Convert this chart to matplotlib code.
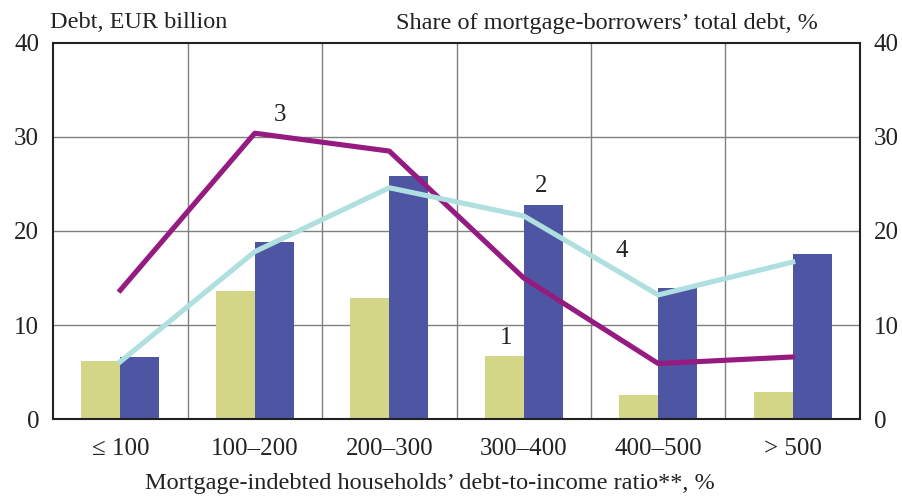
import matplotlib
matplotlib.use("Agg")
import matplotlib.pyplot as plt
import numpy as np

plt.rcParams['font.family'] = ['Liberation Serif', 'DejaVu Serif']

categories = ["≤ 100", "100–200", "200–300", "300–400", "400–500", "> 500"]
series1 = [6.2, 13.6, 12.9, 6.7, 2.6, 2.9]      # bars, yellow-green
series2 = [6.6, 18.8, 25.9, 22.8, 13.9, 17.6]   # bars, blue
series3 = [13.7, 30.4, 28.5, 15.0, 5.9, 6.6]    # line, purple
series4 = [6.1, 17.8, 24.6, 21.6, 13.2, 16.7]   # line, light cyan

c1 = "#d4d687"
c2 = "#4e55a3"
c3 = "#951b81"
c4 = "#b0dfe0"

fig = plt.figure(figsize=(9.02, 4.98), dpi=100)
ax = fig.add_axes([0.0588, 0.1586, 0.8946, 0.7551])
x = np.arange(len(categories))
w = 0.29
ax.bar(x - w/2, series1, width=w, color=c1, zorder=2)
ax.bar(x + w/2, series2, width=w, color=c2, zorder=2)
ax.plot(x, series3, color=c3, lw=3.7, zorder=3)
ax.plot(x, series4, color=c4, lw=3.7, zorder=3)

ax.set_xlim(-0.5, 5.5)
ax.set_ylim(0, 40)
ax.set_yticks([0, 10, 20, 30, 40])
ax.set_xticks(x)
ax.set_xticklabels(categories)
for b in np.arange(0.5, 5.0, 1.0):
    ax.axvline(b, color="#808080", lw=1, zorder=1)
for yv in [10, 20, 30]:
    ax.axhline(yv, color="#808080", lw=1, zorder=1)
for s in ax.spines.values():
    s.set_linewidth(1.5)
    s.set_color("#222222")
ax.tick_params(axis='both', length=0, labelsize=18, colors="#222222")
ax.tick_params(axis='y', pad=10, labelright=True, right=False)
ax.tick_params(axis='x', pad=14)

fs = 18
ax.text(1.19, series3[1] + 0.8, "3", fontsize=fs, ha='center', va='bottom', color="#222222")
ax.text(3.13, series2[3] + 0.8, "2", fontsize=fs, ha='center', va='bottom', color="#222222")
ax.text(2.87, series1[3] + 0.7, "1", fontsize=fs, ha='center', va='bottom', color="#222222")
ax.text(3.73, 16.7, "4", fontsize=fs, ha='center', va='bottom', color="#222222")

fig.text(50/902, 1 - 23/498, "Debt, EUR billion", fontsize=17.5, ha='left', va='center', color="#222222")
fig.text(818/902, 1 - 23/498, "Share of mortgage-borrowers’ total debt, %", fontsize=17.5, ha='right', va='center', color="#222222")
fig.text(430/902, 1 - 483/498, "Mortgage-indebted households’ debt-to-income ratio**, %", fontsize=17.5, ha='center', va='center', color="#222222")

fig.savefig("out.png", dpi=100)
